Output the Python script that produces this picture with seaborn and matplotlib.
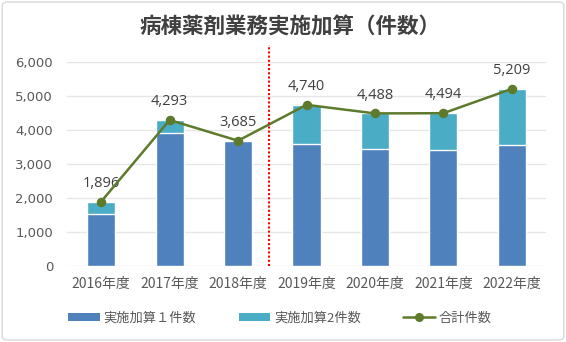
import matplotlib
matplotlib.use("Agg")
import matplotlib.pyplot as plt
import seaborn as sns
import numpy as np
import pandas as pd
from matplotlib.patches import Patch, FancyBboxPatch
from matplotlib.lines import Line2D

years = ["2016年度", "2017年度", "2018年度", "2019年度", "2020年度", "2021年度", "2022年度"]
kasan1 = [1520, 3920, 3685, 3590, 3445, 3410, 3545]
totals = [1896, 4293, 3685, 4740, 4488, 4494, 5209]
yticks = [0, 1000, 2000, 3000, 4000, 5000, 6000]

title = "病棟薬剤業務実施加算（件数）"
leg_labels = ["実施加算１件数", "実施加算2件数", "合計件数"]

c1 = "#4F81BD"
c2 = "#4BACC6"
cl = "#5E7A2C"
txt = "#595959"

sns.set_theme(style="white")
plt.rcParams["font.family"] = ["Noto Sans CJK JP", "DejaVu Sans"]

df = pd.DataFrame({"year": years, "k1": kasan1, "total": totals})

fig = plt.figure(figsize=(5.66, 3.42), dpi=100)
ax = fig.add_axes([67/566, 1-266/342, (546-67)/566, (266-62)/342])

for y in yticks:
    ax.axhline(y, color="#E6E6E6", lw=1.0, zorder=0)

sns.barplot(data=df, x="year", y="total", color=c2, width=0.41, ax=ax,
            saturation=1, zorder=2)
sns.barplot(data=df, x="year", y="k1", color=c1, width=0.41, ax=ax,
            saturation=1, zorder=3)
sns.pointplot(data=df, x="year", y="total", color=cl, ax=ax,
              markersize=5.5, linewidth=1.8, zorder=4)

for i, t in enumerate(totals):
    ax.text(i, t + 540, f"{t:,}", ha="center", va="center", fontsize=10.5,
            color="#404040", family=["Open Sans", "DejaVu Sans"])

ax.plot([2.45, 2.45], [0, 6500], color="red", ls=(0, (1, 1)), lw=1.5,
        clip_on=False, zorder=5)

ax.set_xlim(-0.5, 6.5)
ax.set_ylim(0, 6000)
ax.set_yticks(yticks)
ax.set_yticklabels([f"{v:,}" for v in yticks], family=["DejaVu Sans"])
ax.tick_params(axis="y", labelsize=9.5, colors=txt, length=0, pad=10)
ax.tick_params(axis="x", labelsize=10, colors=txt, length=0, pad=8)
ax.set_xlabel("")
ax.set_ylabel("")
for s in ax.spines.values():
    s.set_visible(False)

fig.text(290/566, 1-27/342, title, ha="center", va="center", fontsize=15.5,
         fontweight="bold", color="#404040")

handles = [Patch(facecolor=c1, edgecolor="none"),
           Patch(facecolor=c2, edgecolor="none"),
           Line2D([0], [0], color=cl, lw=1.8, marker="o", markersize=5.5)]
leg = fig.legend(handles, leg_labels, loc="center", ncol=3,
                 bbox_to_anchor=(280/566, 1-318/342), frameon=False,
                 fontsize=9.5, handlelength=2.4, handleheight=0.6,
                 columnspacing=3.2, handletextpad=0.3)
for t in leg.get_texts():
    t.set_color(txt)

fig.patches.append(FancyBboxPatch((0.004, 0.006), 0.992, 0.988,
                                  boxstyle="round,pad=0,rounding_size=0.01",
                                  transform=fig.transFigure, fill=False,
                                  edgecolor="#D9D9D9", lw=1.0))

fig.savefig("out.png", dpi=100)
